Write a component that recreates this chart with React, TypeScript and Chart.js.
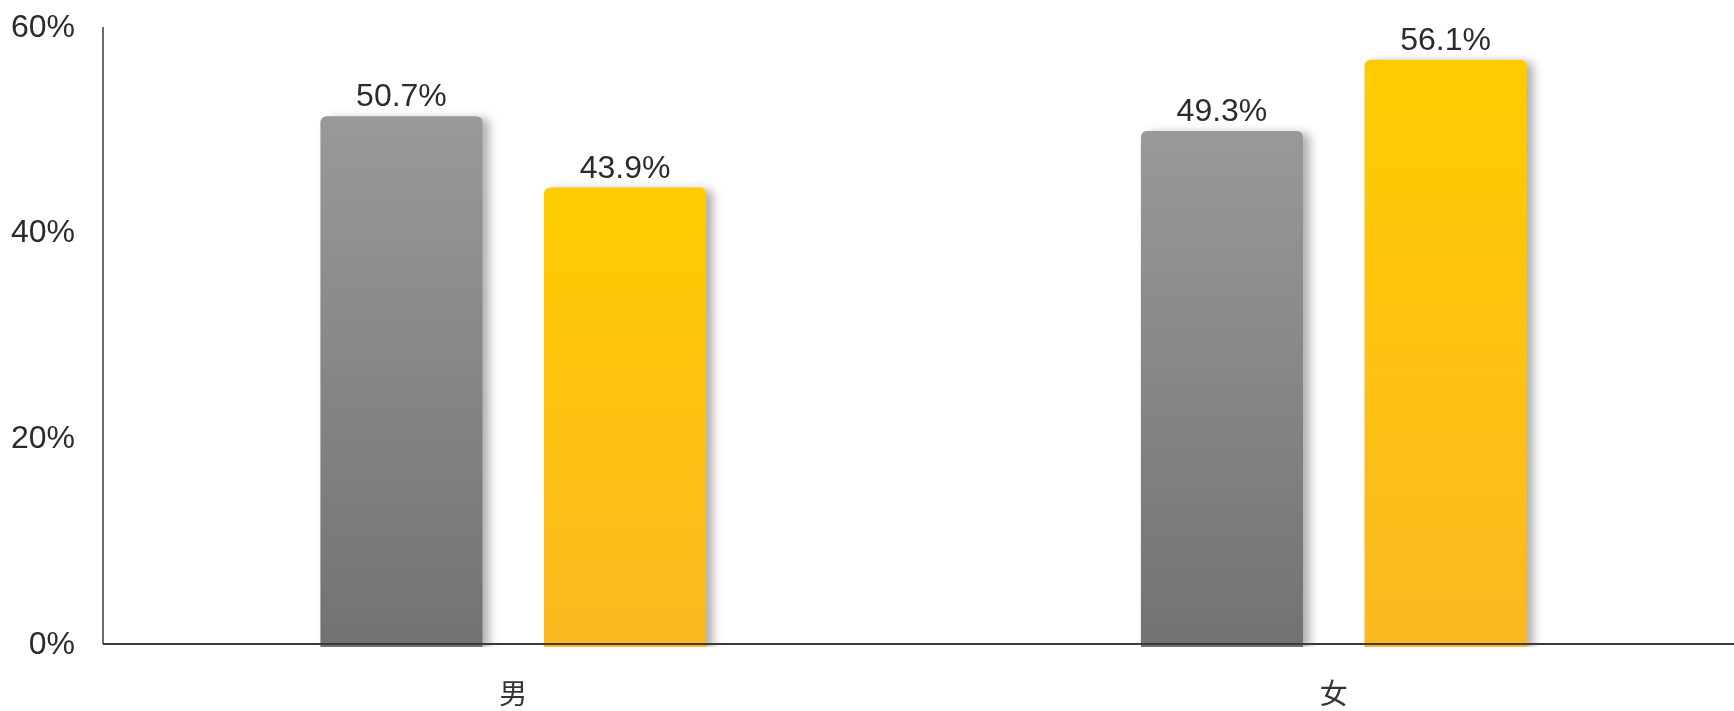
import React, { useEffect, useRef } from "react";
import { Chart, registerables } from "chart.js";

Chart.register(...registerables);

const categories = ["男", "女"];
const greySeries = [50.7, 49.3];
const yellowSeries = [43.9, 56.1];
const yTickValues = [0, 20, 40, 60];

const gradientFill = (topColor: string, bottomColor: string) => (c: any) => {
  const ch = c.chart;
  const ys = ch.scales && ch.scales.y;
  if (!ys || c.type !== "data" || !ch.chartArea) return topColor;
  const v = c.parsed && c.parsed.y != null ? c.parsed.y : c.raw;
  const t = ys.getPixelForValue(v);
  const b = ys.getPixelForValue(0);
  if (!isFinite(t) || !isFinite(b) || t === b) return topColor;
  const g = ch.ctx.createLinearGradient(0, t, 0, b);
  g.addColorStop(0, topColor);
  g.addColorStop(1, bottomColor);
  return g;
};

const shadowAndLabels = {
  id: "shadowAndLabels",
  beforeDatasetsDraw(chart: any) {
    const ctx = chart.ctx;
    ctx.save();
    ctx.shadowColor = "rgba(0,0,0,0.3)";
    ctx.shadowBlur = 10;
    ctx.shadowOffsetX = 7;
    ctx.shadowOffsetY = 2;
  },
  afterDatasetsDraw(chart: any) {
    const ctx = chart.ctx;
    ctx.restore();
    const ys = chart.scales.y;
    const area = chart.chartArea;
    const zeroY = ys.getPixelForValue(0);
    // axis lines
    ctx.save();
    ctx.strokeStyle = "#3a3a3a";
    ctx.lineWidth = 1.5;
    ctx.beginPath();
    ctx.moveTo(area.left, area.top + 8);
    ctx.lineTo(area.left, zeroY - 3);
    ctx.stroke();
    ctx.lineWidth = 2;
    ctx.beginPath();
    ctx.moveTo(area.left, zeroY - 3);
    ctx.lineTo(chart.width, zeroY - 3);
    ctx.stroke();
    ctx.restore();
    // value labels
    ctx.save();
    ctx.font = "32px 'Liberation Sans', Arial, sans-serif";
    ctx.fillStyle = "#2b2b2b";
    ctx.textAlign = "center";
    ctx.textBaseline = "alphabetic";
    chart.data.datasets.forEach((ds: any, i: number) => {
      const meta = chart.getDatasetMeta(i);
      meta.data.forEach((bar: any, j: number) => {
        ctx.fillText(ds.data[j].toFixed(1) + "%", bar.x, bar.y - 10);
      });
    });
    ctx.restore();
  },
};

export default function App() {
  const ref = useRef<HTMLCanvasElement | null>(null);

  useEffect(() => {
    if (!ref.current) return;
    const chart = new Chart(ref.current, {
      type: "bar",
      data: {
        labels: categories,
        datasets: [
          {
            label: "A",
            data: greySeries,
            yAxisID: "y",
            backgroundColor: gradientFill("#999999", "#727272"),
            borderRadius: { topLeft: 6, topRight: 6, bottomLeft: 0, bottomRight: 0 },
            borderSkipped: false,
            barPercentage: 0.725,
            categoryPercentage: 0.545,
          },
          {
            label: "B",
            data: yellowSeries,
            yAxisID: "y",
            backgroundColor: gradientFill("#FFCC00", "#FBB821"),
            borderRadius: { topLeft: 6, topRight: 6, bottomLeft: 0, bottomRight: 0 },
            borderSkipped: false,
            barPercentage: 0.725,
            categoryPercentage: 0.545,
          },
        ],
      },
      options: {
        responsive: false,
        animation: false,
        devicePixelRatio: 1,
        layout: { padding: { top: 19, left: 0, right: 0, bottom: 0 } },
        plugins: {
          legend: { display: false },
          tooltip: { enabled: false },
          title: { display: false },
        },
        scales: {
          x: {
            grid: { display: false, drawTicks: false },
            border: { display: false },
            ticks: {
              padding: 30,
              color: "#333333",
              font: { family: "'Noto Sans CJK SC', sans-serif", size: 28, weight: "normal" },
            },
            afterFit: (s: any) => {
              s.height = 64;
              s.paddingLeft = 0;
              s.paddingRight = 0;
            },
          },
          y: {
            display: false,
            min: 0,
            max: 60,
          },
          yLabels: {
            position: "left",
            min: -0.19,
            max: 60.87,
            grid: { display: false, drawTicks: false },
            border: { display: false },
            afterBuildTicks: (s: any) => {
              s.ticks = yTickValues.map((v) => ({ value: v }));
            },
            ticks: {
              padding: 28,
              color: "#2b2b2b",
              font: { family: "'Liberation Sans', Arial, sans-serif", size: 32 },
              callback: (v: any) => v + "%",
            },
            afterFit: (s: any) => {
              s.width = 103;
              s.paddingTop = 0;
              s.paddingBottom = 0;
            },
          },
        },
      },
      plugins: [shadowAndLabels],
    });
    return () => chart.destroy();
  }, []);

  return (
    <div
      style={{
        position: "absolute",
        left: 0,
        top: 0,
        width: 1734,
        height: 711,
        overflow: "hidden",
        background: "#ffffff",
      }}
    >
      <canvas ref={ref} width={1744} height={711} style={{ display: "block" }} />
    </div>
  );
}
